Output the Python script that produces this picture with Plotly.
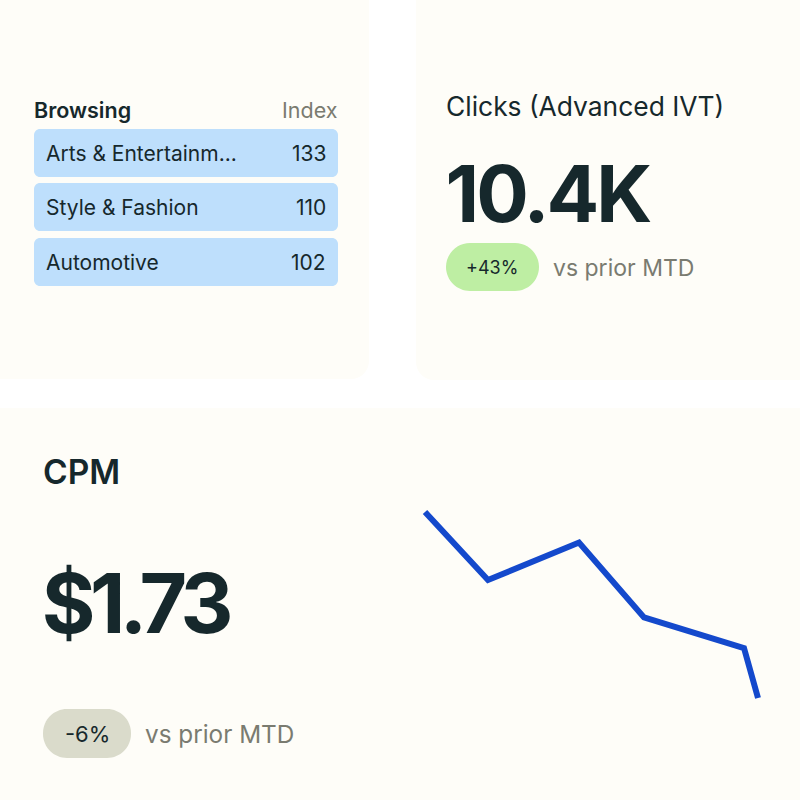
import plotly.graph_objects as go

# data
browsing_categories = ["Arts & Entertainm...", "Style & Fashion", "Automotive"]
browsing_index = [133, 110, 102]
clicks_value = "10.4K"
clicks_change = "+43%"
cpm_value = "$1.73"
cpm_change = "-6%"
cpm_period = [0, 63, 154, 219, 319, 333]
cpm_history = [2.40, 2.155, 2.29, 2.02, 1.91, 1.73]

SIZE = 800
INK = "#16282c"
GREY = "#7a7b70"
CARD = "#fefdf8"
ROW = "#bedffc"
FONT = "Inter"
K = 0.45  # how far the curve handles sit from the corner


def px(x):
    return x / SIZE


def py(y):
    return 1 - y / SIZE


# rounded box, given in pixels from the top left
def box(x0, y0, x1, y1, r, color):
    c = r * K
    pts = [
        ("M", x0 + r, y0),
        ("L", x1 - r, y0),
        ("C", x1 - c, y0, x1, y0 + c, x1, y0 + r),
        ("L", x1, y1 - r),
        ("C", x1, y1 - c, x1 - c, y1, x1 - r, y1),
        ("L", x0 + r, y1),
        ("C", x0 + c, y1, x0, y1 - c, x0, y1 - r),
        ("L", x0, y0 + r),
        ("C", x0, y0 + c, x0 + c, y0, x0 + r, y0),
    ]
    path = ""
    for p in pts:
        nums = p[1:]
        path += p[0] + " "
        for j in range(0, len(nums), 2):
            path += f"{px(nums[j])} {py(nums[j + 1])} "
    return dict(type="path", xref="paper", yref="paper", path=path + "Z",
                fillcolor=color, line=dict(width=0), layer="below")


def label(x, y, text, size, color=INK, anchor="left", weight=400):
    return dict(xref="paper", yref="paper", x=px(x), y=py(y), text=text,
                xanchor=anchor, yanchor="middle", showarrow=False,
                borderpad=0, borderwidth=0,
                font=dict(family=FONT, size=size, color=color, weight=weight))


shapes = [
    box(-20, -20, 369, 379, 18, CARD),
    box(416, -20, 820, 380, 18, CARD),
    box(-20, 408, 820, 820, 18, CARD),
    box(446, 243, 539, 291, 24, "#beeea3"),
    box(43, 709, 131, 758, 24, "#dadbcb"),
]
annotations = [
    label(34, 110, "Browsing", 21.5, weight=600),
    label(338, 110, "Index", 21.5, GREY, "right"),
    label(446, 106, "Clicks (Advanced IVT)", 26.4),
    label(547, 194, clicks_value, 78, anchor="center", weight=700),
    label(492, 267, clicks_change, 18, anchor="center"),
    label(553, 268, "vs prior MTD", 23, GREY),
    label(43, 472, "CPM", 33.5, weight=600),
    label(135, 603, cpm_value, 82, anchor="center", weight=700),
    label(87, 734, cpm_change, 22, anchor="center"),
    label(145, 734, "vs prior MTD", 24.3, GREY),
]

row_top = [129, 183, 238]
for i in range(len(browsing_categories)):
    shapes.append(box(34, row_top[i], 338, row_top[i] + 48, 6, ROW))
    annotations.append(label(46, row_top[i] + 24.5, browsing_categories[i], 21))
    annotations.append(label(326, row_top[i] + 24.5, str(browsing_index[i]), 21, anchor="right"))

fig = go.Figure()
fig.add_trace(
    go.Scatter(x=cpm_period, y=cpm_history, mode="lines",
               line=dict(color="#1449cc", width=6), hoverinfo="skip")
)

# axis ranges run a little past the data so the line ends are not clipped
fig.update_layout(
    width=SIZE,
    height=SIZE,
    margin=dict(l=0, r=0, t=0, b=0),
    paper_bgcolor="white",
    plot_bgcolor="rgba(0,0,0,0)",
    showlegend=False,
    shapes=shapes,
    annotations=annotations,
    xaxis=dict(domain=[px(415), px(768)], range=[-10, 343], visible=False),
    yaxis=dict(domain=[py(708), py(502)], range=[1.694, 2.436], visible=False),
)

# tighten the big numbers, plotly has no letter spacing for annotations
tighten = f"""
document.body.style.margin = '0';
setTimeout(function() {{
  var spacing = {{'{clicks_value}': '-3px', '{cpm_value}': '-5.5px'}};
  document.querySelectorAll('.annotation-text').forEach(function(t) {{
    if (spacing[t.textContent]) t.style.letterSpacing = spacing[t.textContent];
  }});
}}, 50);
"""
fig.write_html("out.html", config={"displayModeBar": False}, post_script=tighten)
